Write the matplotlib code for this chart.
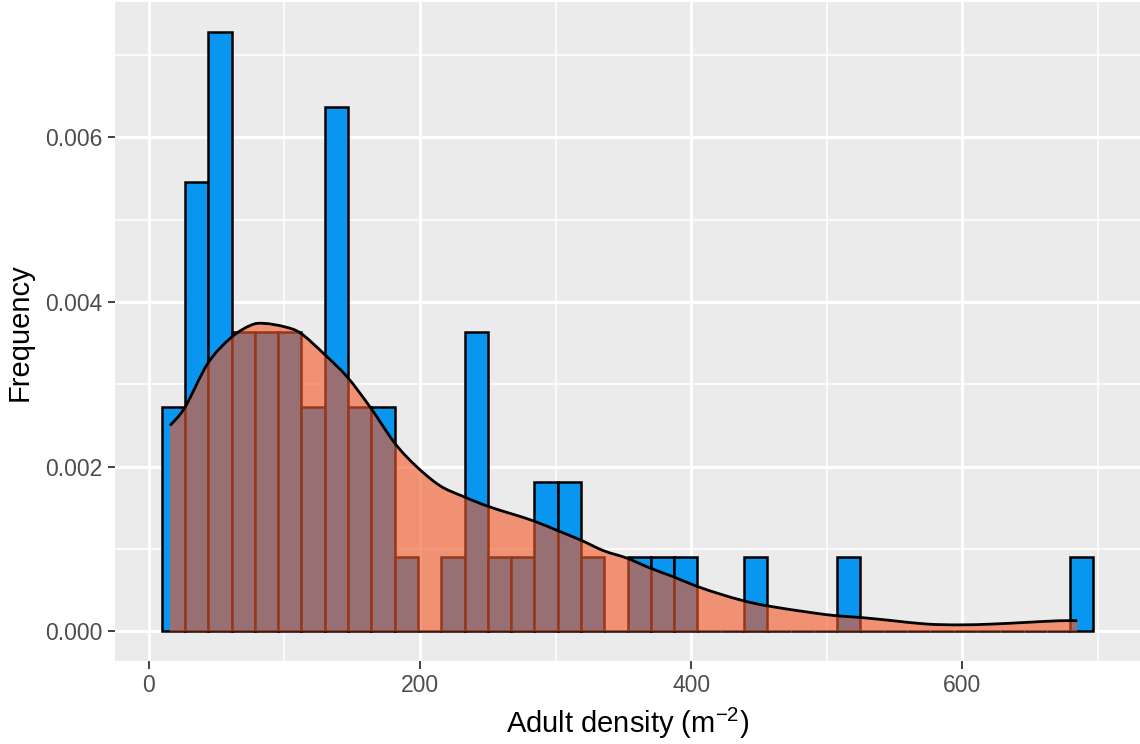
import matplotlib.pyplot as plt
import numpy as np
from matplotlib.path import Path
from matplotlib.patches import PathPatch

# Histogram of adult density (40 bins), counts per bin
bin_start = 9.5
bin_width = 17.18
counts = [3, 6, 8, 4, 4, 4, 3, 7, 3, 3,
          1, 0, 1, 4, 1, 1, 2, 2, 1, 0,
          1, 1, 1, 0, 0, 1, 0, 0, 0, 1,
          0, 0, 0, 0, 0, 0, 0, 0, 0, 1]

# Kernel density curve
dens_x = [15.6, 26.6, 43.7, 60.8, 75.5, 85.2, 99.9, 112.1, 129.2, 146.3,
          163.4, 181.7, 197.6, 214.7, 231.7, 250.0, 267.2, 284.2, 302.1, 318.5,
          335.5, 352.6, 369.7, 387.5, 403.9, 422.2, 439.3, 456.4, 488.1, 507.7,
          524.8, 549.2, 573.6, 598.0, 622.5, 646.9, 671.3, 684.8]
dens_y = [2.50, 2.72, 3.26, 3.57, 3.72, 3.74, 3.70, 3.62, 3.37, 3.09,
          2.72, 2.28, 2.00, 1.77, 1.64, 1.52, 1.43, 1.34, 1.22, 1.11,
          0.98, 0.89, 0.77, 0.66, 0.55, 0.45, 0.37, 0.31, 0.23, 0.19,
          0.17, 0.13, 0.09, 0.08, 0.09, 0.11, 0.13, 0.13]

x_ticks = [0, 200, 400, 600]
y_ticks = [0.000, 0.002, 0.004, 0.006]

plt.rcParams["font.family"] = ["Liberation Sans", "DejaVu Sans"]
plt.rcParams["mathtext.default"] = "regular"

counts = np.array(counts)
edges = bin_start + bin_width * np.arange(len(counts) + 1)
density = counts / (counts.sum() * bin_width)
dens_y = np.array(dens_y) / 1000


def smooth_path(xs, ys):
    # cubic bezier pieces (catmull-rom style) through the read points
    pts = np.column_stack([xs, ys])
    verts = [pts[0]]
    codes = [Path.MOVETO]
    n = len(pts)
    for i in range(n - 1):
        p0 = pts[max(i - 1, 0)]
        p1 = pts[i]
        p2 = pts[i + 1]
        p3 = pts[min(i + 2, n - 1)]
        verts += [p1 + (p2 - p0) / 6, p2 - (p3 - p1) / 6, p2]
        codes += [Path.CURVE4] * 3
    return verts, codes


fig = plt.figure(figsize=(11.4, 7.44), dpi=100)
ax = fig.add_axes([0.101, 0.111, 0.899, 0.886])
ax.set_facecolor("#EBEBEB")

# histogram first, density on top of it
ax.bar(edges[:-1], density, width=bin_width, align="edge",
       color="#0896F0", edgecolor="black", linewidth=1.8, zorder=2)

verts, codes = smooth_path(dens_x, dens_y)
fill_verts = verts + [(dens_x[-1], 0), (dens_x[0], 0), verts[0]]
fill_codes = codes + [Path.LINETO, Path.LINETO, Path.CLOSEPOLY]
ax.add_patch(PathPatch(Path(fill_verts, fill_codes), facecolor="#F25A28",
                       alpha=0.62, linewidth=0, zorder=3))
ax.add_patch(PathPatch(Path(verts, codes), facecolor="none",
                       edgecolor="black", linewidth=2.0, zorder=4))

# ggplot-like 5% expansion
xr = edges[-1] - edges[0]
ax.set_xlim(edges[0] - 0.05 * xr, edges[-1] + 0.05 * xr)
ymax = density.max()
ax.set_ylim(-0.05 * ymax, 1.05 * ymax)

ax.set_xticks(x_ticks)
ax.set_yticks(y_ticks)
ax.set_yticklabels(["%.3f" % v for v in y_ticks])
ax.set_xticks([100, 300, 500, 700], minor=True)
ax.set_yticks([0.001, 0.003, 0.005, 0.007], minor=True)
ax.grid(which="major", color="white", linewidth=2.2)
ax.grid(which="minor", color="white", linewidth=1.1)
ax.set_axisbelow(True)

for s in ax.spines.values():
    s.set_visible(False)
ax.tick_params(which="major", length=5.4, width=1.3, color="#333333",
               labelsize=16.5, labelcolor="#4D4D4D", pad=4)
ax.tick_params(which="minor", length=0)

ax.set_xlabel("Adult density (m$^{-2}$)", fontsize=21, labelpad=6)
ax.set_ylabel("Frequency", fontsize=21, labelpad=8)

fig.savefig("out.png", dpi=100)
